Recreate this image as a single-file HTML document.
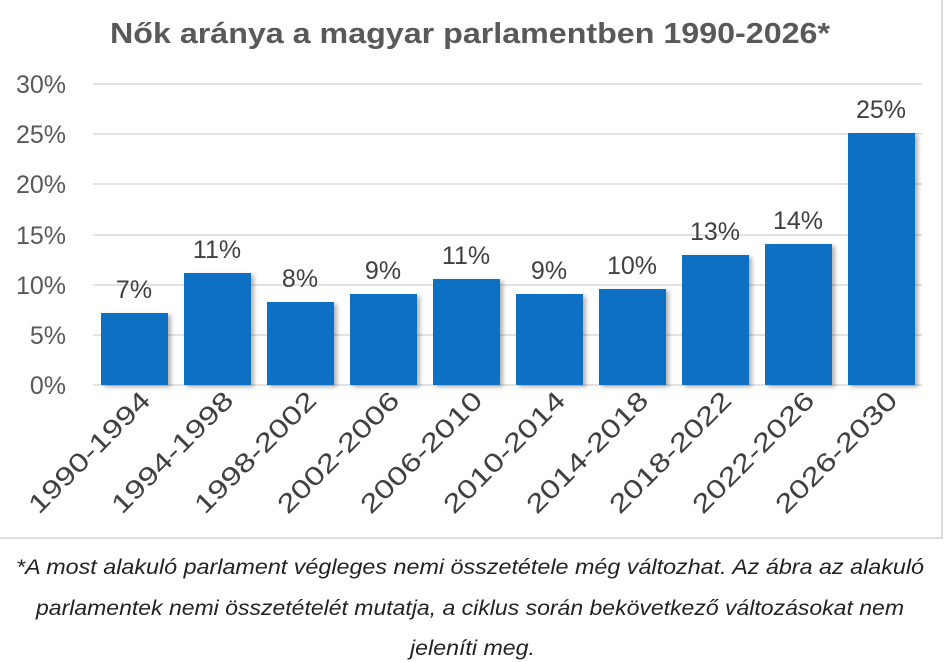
<!DOCTYPE html>
<html><head><meta charset="utf-8"><style>
body{margin:0;background:#fff;width:946px;height:662px;overflow:hidden;font-family:"Liberation Sans",sans-serif}
</style></head><body>
<svg width="946" height="662" style="position:absolute;left:0;top:0">
<defs><filter id="s" x="-10%" y="-10%" width="130%" height="130%"><feDropShadow dx="3" dy="2" stdDeviation="2" flood-color="#000" flood-opacity="0.3"/></filter></defs>
<rect x="-2" y="-2" width="944" height="540" fill="#fff" stroke="#ddd" stroke-width="2"/>
<text x="110" y="43" textLength="720" lengthAdjust="spacingAndGlyphs" font-size="29" font-weight="bold" fill="#595959">Nők aránya a magyar parlamentben 1990-2026*</text>
<g stroke="#d9d9d9" stroke-width="1.5">
<line x1="93" x2="922" y1="84" y2="84"/><line x1="93" x2="922" y1="134" y2="134"/><line x1="93" x2="922" y1="184" y2="184"/><line x1="93" x2="922" y1="235" y2="235"/><line x1="93" x2="922" y1="285" y2="285"/><line x1="93" x2="922" y1="335" y2="335"/><line x1="93" x2="922" y1="385" y2="385"/>
</g>
<g font-size="25" fill="#595959" text-anchor="end">
<text x="66" y="93">30%</text><text x="66" y="143">25%</text><text x="66" y="193">20%</text><text x="66" y="244">15%</text><text x="66" y="294">10%</text><text x="66" y="344">5%</text><text x="66" y="394">0%</text>
</g>
<g fill="#0a6fc2" filter="url(#s)">
<rect x="101" y="313" width="67" height="72"/>
<rect x="184" y="273" width="67" height="112"/>
<rect x="267" y="302" width="67" height="83"/>
<rect x="350" y="294" width="67" height="91"/>
<rect x="433" y="279" width="67" height="106"/>
<rect x="516" y="294" width="67" height="91"/>
<rect x="599" y="289" width="67" height="96"/>
<rect x="682" y="255" width="67" height="130"/>
<rect x="765" y="244" width="67" height="141"/>
<rect x="848" y="133" width="67" height="252"/>
</g>
<g font-size="25" fill="#404040" text-anchor="middle">
<text x="134" y="298">7%</text><text x="217" y="258">11%</text><text x="300" y="287">8%</text><text x="383" y="279">9%</text><text x="466" y="264">11%</text><text x="549" y="279">9%</text><text x="632" y="274">10%</text><text x="715" y="240">13%</text><text x="798" y="229">14%</text><text x="881" y="118">25%</text>
</g>
<g font-size="26" fill="#404040" text-anchor="end">
<text transform="translate(152,402) rotate(-45)" textLength="160" lengthAdjust="spacingAndGlyphs">1990-1994</text>
<text transform="translate(235,402) rotate(-45)" textLength="160" lengthAdjust="spacingAndGlyphs">1994-1998</text>
<text transform="translate(318,402) rotate(-45)" textLength="160" lengthAdjust="spacingAndGlyphs">1998-2002</text>
<text transform="translate(401,402) rotate(-45)" textLength="160" lengthAdjust="spacingAndGlyphs">2002-2006</text>
<text transform="translate(484,402) rotate(-45)" textLength="160" lengthAdjust="spacingAndGlyphs">2006-2010</text>
<text transform="translate(567,402) rotate(-45)" textLength="160" lengthAdjust="spacingAndGlyphs">2010-2014</text>
<text transform="translate(650,402) rotate(-45)" textLength="160" lengthAdjust="spacingAndGlyphs">2014-2018</text>
<text transform="translate(733,402) rotate(-45)" textLength="160" lengthAdjust="spacingAndGlyphs">2018-2022</text>
<text transform="translate(816,402) rotate(-45)" textLength="160" lengthAdjust="spacingAndGlyphs">2022-2026</text>
<text transform="translate(899,402) rotate(-45)" textLength="160" lengthAdjust="spacingAndGlyphs">2026-2030</text>
</g>
<g font-size="21" font-style="italic" fill="#222">
<text x="16" y="574" textLength="908" lengthAdjust="spacingAndGlyphs">*A most alakuló parlament végleges nemi összetétele még változhat. Az ábra az alakuló</text>
<text x="36" y="615" textLength="868" lengthAdjust="spacingAndGlyphs">parlamentek nemi összetételét mutatja, a ciklus során bekövetkező változásokat nem</text>
<text x="410" y="655" textLength="125" lengthAdjust="spacingAndGlyphs">jeleníti meg.</text>
</g>
</svg>
</body></html>
